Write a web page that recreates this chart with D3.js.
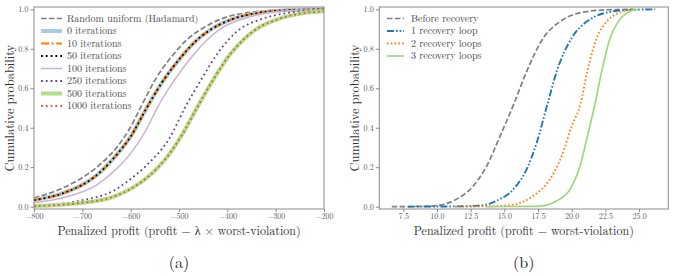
<!DOCTYPE html>
<html>
<head>
<meta charset="utf-8">
<script src="https://cdn.jsdelivr.net/npm/d3@7"></script>
<style>
  body { margin: 0; background: #fff; }
  text { font-family: "Latin Modern Roman", "Times New Roman", serif; }
</style>
</head>
<body>
<div id="chart"></div>
<script>
// Panel (a): [penalized profit, cumulative probability]
const uniformHadamard = [[-800, 0.044], [-740, 0.095], [-670, 0.20], [-629, 0.30], [-601, 0.40], [-578, 0.51], [-550, 0.64], [-512, 0.77], [-482, 0.85], [-457, 0.895], [-409, 0.955], [-353, 0.985], [-300, 0.996], [-250, 1.0], [-200, 1.0]];
const iter0 = [[-800, 0.033], [-740, 0.068], [-670, 0.16], [-630, 0.26], [-600, 0.355], [-567, 0.50], [-535, 0.63], [-495, 0.76], [-465, 0.84], [-436, 0.895], [-390, 0.95], [-335, 0.983], [-280, 0.995], [-230, 0.999], [-200, 1.0]];
const iter10 = [[-800, 0.033], [-740, 0.068], [-670, 0.16], [-630, 0.26], [-600, 0.355], [-567, 0.50], [-535, 0.63], [-495, 0.76], [-465, 0.84], [-436, 0.895], [-390, 0.95], [-335, 0.983], [-280, 0.995], [-230, 0.999], [-200, 1.0]];
const iter50 = [[-800, 0.033], [-740, 0.068], [-670, 0.16], [-630, 0.26], [-600, 0.355], [-567, 0.50], [-535, 0.63], [-495, 0.76], [-465, 0.84], [-436, 0.895], [-390, 0.95], [-335, 0.983], [-280, 0.995], [-230, 0.999], [-200, 1.0]];
const iter100 = [[-800, 0.02], [-740, 0.045], [-670, 0.11], [-630, 0.19], [-600, 0.27], [-570, 0.38], [-543, 0.51], [-510, 0.64], [-470, 0.77], [-440, 0.85], [-415, 0.9], [-370, 0.95], [-315, 0.983], [-260, 0.995], [-200, 0.999]];
const iter250 = [[-800, 0.005], [-705, 0.03], [-636, 0.08], [-600, 0.14], [-567, 0.21], [-519, 0.35], [-488, 0.50], [-455, 0.64], [-422, 0.77], [-396, 0.85], [-374, 0.9], [-330, 0.95], [-280, 0.98], [-235, 0.993], [-200, 0.997]];
const iter500 = [[-800, 0.003], [-705, 0.018], [-636, 0.05], [-600, 0.09], [-567, 0.145], [-519, 0.27], [-490, 0.38], [-463, 0.50], [-430, 0.64], [-395, 0.77], [-365, 0.85], [-340, 0.9], [-295, 0.95], [-245, 0.98], [-200, 0.99]];
const iter1000 = [[-800, 0.003], [-705, 0.018], [-636, 0.05], [-600, 0.09], [-567, 0.145], [-519, 0.27], [-490, 0.38], [-463, 0.50], [-430, 0.64], [-395, 0.77], [-365, 0.85], [-340, 0.9], [-295, 0.95], [-245, 0.98], [-200, 0.99]];

// Panel (b): [penalized profit, cumulative probability]
const beforeRecovery = [[6.64, 0.0], [8.5, 0.001], [9.98, 0.005], [11.46, 0.038], [12.7, 0.105], [13.69, 0.206], [14.68, 0.357], [15.7, 0.52], [16.66, 0.686], [17.89, 0.855], [19.13, 0.938], [21.12, 0.989], [22.8, 0.998], [24.55, 1.0]];
const recovery1 = [[7.85, 0.0], [11.0, 0.001], [13.19, 0.005], [14.43, 0.03], [15.67, 0.088], [16.66, 0.19], [17.4, 0.324], [18.2, 0.52], [18.89, 0.686], [20.0, 0.855], [21.12, 0.938], [23.09, 0.99], [24.6, 0.998], [26.2, 1.0]];
const recovery2 = [[11.34, 0.0], [14.0, 0.002], [15.67, 0.01], [17.15, 0.055], [18.39, 0.139], [19.26, 0.257], [20.0, 0.408], [20.65, 0.52], [21.16, 0.686], [21.86, 0.855], [22.6, 0.938], [23.83, 0.99], [24.55, 1.0]];
const recovery3 = [[13.69, 0.0], [16.5, 0.001], [17.65, 0.003], [18.89, 0.03], [19.88, 0.088], [20.62, 0.206], [21.23, 0.375], [21.73, 0.52], [22.23, 0.686], [22.85, 0.855], [23.46, 0.938], [24.33, 0.99], [24.9, 1.0]];

const probTicks = [0.0, 0.2, 0.4, 0.6, 0.8, 1.0];
const ticksA = [-800, -700, -600, -500, -400, -300, -200];
const ticksB = [7.5, 10.0, 12.5, 15.0, 17.5, 20.0, 22.5, 25.0];

const seriesA = [
  {label: "Random uniform (Hadamard)", data: uniformHadamard, color: "#7f7f7f", width: 1.7, dash: "5.5,2.4"},
  {label: "0 iterations", data: iter0, color: "#a6cee3", width: 4, dash: null},
  {label: "10 iterations", data: iter10, color: "#ff7f00", width: 2.2, dash: "8,2.6,2,2.6"},
  {label: "50 iterations", data: iter50, color: "#000000", width: 1.8, dash: "1.8,3"},
  {label: "100 iterations", data: iter100, color: "#cab2d6", width: 1.5, dash: null},
  {label: "250 iterations", data: iter250, color: "#6a3d9a", width: 1.8, dash: "1.8,3"},
  {label: "500 iterations", data: iter500, color: "#b2df8a", width: 4, dash: null},
  {label: "1000 iterations", data: iter1000, color: "#e0593a", width: 1.8, dash: "1.8,3"}
];
const seriesB = [
  {label: "Before recovery", data: beforeRecovery, color: "#7f7f7f", width: 1.7, dash: "5.5,2.4"},
  {label: "1 recovery loop", data: recovery1, color: "#1f77b4", width: 1.9, dash: "7,2,1.6,2,1.6,2"},
  {label: "2 recovery loops", data: recovery2, color: "#ff7f0e", width: 1.9, dash: "1.6,2.2"},
  {label: "3 recovery loops", data: recovery3, color: "#9fd77f", width: 1.7, dash: null}
];

const svg = d3.select("#chart").append("svg")
  .attr("width", 675)
  .attr("height", 276);

const plotTop = 7, plotBottom = 209;

function drawPanel(id, left, right, xDomain, xTicks, xFmt, series, xLabel, caption, legendPos) {
  const x = d3.scaleLinear().domain(xDomain).range([left, right]);
  const y = d3.scaleLinear().domain([-0.012, 1.012]).range([plotBottom, plotTop]);
  const g = svg.append("g");

  g.append("clipPath").attr("id", "clip-" + id)
    .append("rect")
      .attr("x", left).attr("y", plotTop)
      .attr("width", right - left).attr("height", plotBottom - plotTop);

  const line = d3.line()
    .x(d => x(d[0]))
    .y(d => y(d[1]))
    .curve(d3.curveMonotoneX);

  const lines = g.append("g").attr("clip-path", `url(#clip-${id})`);
  series.forEach(s => {
    lines.append("path")
      .datum(s.data)
      .attr("fill", "none")
      .attr("stroke", s.color)
      .attr("stroke-width", s.width)
      .attr("stroke-dasharray", s.dash)
      .attr("d", line);
  });

  // Axes
  const xAxis = g.append("g")
    .attr("transform", `translate(0,${plotBottom})`)
    .call(d3.axisBottom(x).tickValues(xTicks).tickFormat(xFmt).tickSize(3).tickPadding(1.5));
  const yAxis = g.append("g")
    .attr("transform", `translate(${left},0)`)
    .call(d3.axisLeft(y).tickValues(probTicks).tickFormat(d3.format(".1f")).tickSize(3.5).tickPadding(2));
  [xAxis, yAxis].forEach(a => {
    a.attr("font-family", null);
    a.select(".domain").remove();
    a.selectAll("line").attr("stroke", "#888");
    a.selectAll("text").attr("fill", "#555").style("font-size", "8px");
  });

  // Frame
  g.append("rect")
    .attr("x", left).attr("y", plotTop)
    .attr("width", right - left).attr("height", plotBottom - plotTop)
    .attr("fill", "none")
    .attr("stroke", "#8c8c8c")
    .attr("stroke-width", 1);

  g.append("text")
    .attr("x", (left + right) / 2)
    .attr("y", 234.5)
    .attr("text-anchor", "middle")
    .attr("fill", "#333")
    .style("font-size", "12px")
    .text(xLabel);

  g.append("text")
    .attr("transform", `translate(${left - 20},${(plotTop + plotBottom) / 2}) rotate(-90)`)
    .attr("text-anchor", "middle")
    .attr("fill", "#333")
    .style("font-size", "12.5px")
    .text("Cumulative probability");

  g.append("text")
    .attr("x", (left + right) / 2)
    .attr("y", 268)
    .attr("text-anchor", "middle")
    .attr("fill", "#222")
    .style("font-size", "16px")
    .text(caption);

  // Legend
  const leg = g.append("g");
  series.forEach((s, i) => {
    const ly = legendPos.y + i * legendPos.step;
    leg.append("line")
      .attr("x1", legendPos.x1).attr("x2", legendPos.x2)
      .attr("y1", ly).attr("y2", ly)
      .attr("stroke", s.color)
      .attr("stroke-width", s.width)
      .attr("stroke-dasharray", s.dash);
    leg.append("text")
      .attr("x", legendPos.tx)
      .attr("y", ly)
      .attr("dy", "0.33em")
      .attr("fill", "#444")
      .style("font-size", "10px")
      .text(s.label);
  });
}

const minusFmt = d => d3.format("d")(d).replace("-", "\u2212");

drawPanel("a", 34, 324, [-800, -200], ticksA, minusFmt, seriesA,
  "Penalized profit (profit \u2212 \u03bb \u00d7 worst-violation)", "(a)",
  {x1: 41, x2: 62, tx: 67, y: 18.5, step: 12.5});

drawPanel("b", 379.3, 668.3, [5.72, 27.17], ticksB, d3.format(".1f"), seriesB,
  "Penalized profit (profit \u2212 worst-violation)", "(b)",
  {x1: 387, x2: 404, tx: 411, y: 18.5, step: 12.5});
</script>
</body>
</html>
